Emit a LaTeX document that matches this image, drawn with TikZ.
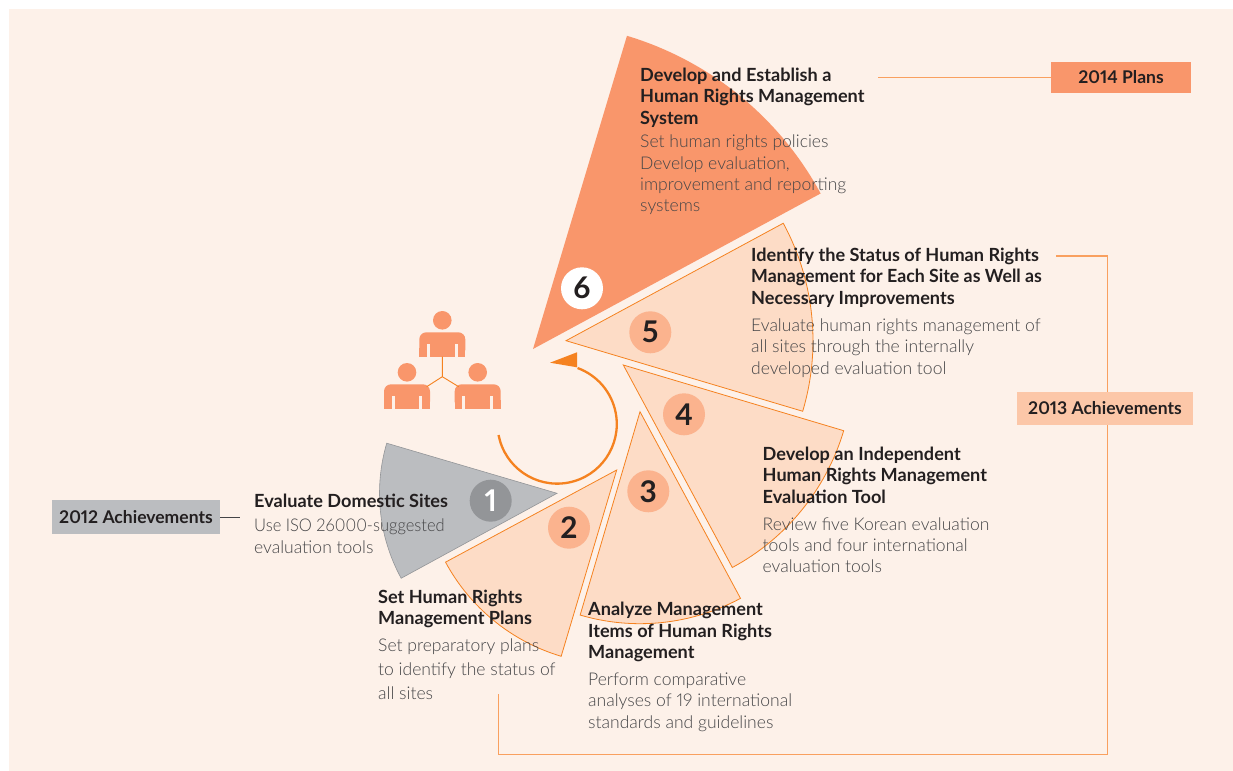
\documentclass[tikz,border=0pt]{standalone}
\usepackage{fontspec}
\usepackage{graphicx}
\setmainfont{Lato}[Numbers=Proportional]
\newfontfamily\lightface{Lato Light}[Numbers=Proportional]
\definecolor{pg}{HTML}{FDF1E9}
\definecolor{wedgeL}{HTML}{FDDCC6}
\definecolor{wedgeM}{HTML}{F9966B}
\definecolor{lineO}{HTML}{F58220}
\definecolor{leadO}{HTML}{F9A05F}
\definecolor{discL}{HTML}{FBB38E}
\definecolor{boxL}{HTML}{FCC7A8}
\definecolor{greyW}{HTML}{BBBDC0}
\definecolor{greyD}{HTML}{939598}
\definecolor{inkT}{HTML}{231F20}
\definecolor{inkL}{HTML}{454547}
\newcommand{\wedgeshape}[6]{% style, apex x, apex y, a1, a2, r
  \path[#1] (#2,#3) -- ++(#4:#6) arc[start angle=#4,end angle=#5,radius=#6] -- cycle;}
\newcommand{\personicon}[2]{% x, y of head
  \fill[wedgeM] (#1,#2) circle[radius=9.3];
  \fill[wedgeM,rounded corners=7bp] (#1-23,#2+36.4) -- (#1-23,#2+12) -- (#1+23,#2+12) -- (#1+23,#2+36.4) -- cycle;
  \fill[wedgeM] (#1-23,#2+28) rectangle (#1+23,#2+36.4);
  \fill[pg] (#1-15.3,#2+24) rectangle (#1-12.4,#2+36.6);
  \fill[pg] (#1+12.4,#2+24) rectangle (#1+15.3,#2+36.6);}
\tikzset{
  softwedge/.style={fill=wedgeL,draw=lineO,line width=.8bp,line join=miter},
  strongwedge/.style={fill=wedgeM},
  greywedge/.style={fill=greyW,draw=greyD,line width=.6bp},
  numdisc/.style={circle,minimum size=42bp,inner sep=0,text=inkT,font=\fontsize{30}{30}\selectfont\bfseries},
  headtext/.style={anchor=base west,inner sep=0,align=left,text=inkT,font=\fontsize{18.2}{21.4}\selectfont\bfseries},
  bodytext/.style={anchor=base west,inner sep=0,align=left,text=inkL,font=\fontsize{17.6}{21.4}\selectfont\lightface},
  tagbox/.style={inner sep=0,text=inkT,font=\fontsize{17.6}{21}\selectfont\bfseries},
  leader/.style={draw=leadO,line width=1.1bp},
}
\begin{document}
\begin{tikzpicture}[x=1bp,y=-1bp]
\useasboundingbox (0,0) rectangle (1233,771);
\fill[pg] (9,9) rectangle (1233,771);
% wedges
\wedgeshape{strongwedge}{533}{349}{-73.3}{-28.4}{327}
\wedgeshape{softwedge}{566}{340.7}{-28.4}{16.6}{247}
\wedgeshape{softwedge}{623.3}{365}{16.6}{61.7}{230}
\wedgeshape{softwedge}{640}{411.7}{61.7}{106.4}{212}
\wedgeshape{softwedge}{616.7}{470}{106.6}{151.7}{194.4}
\wedgeshape{greywedge}{557}{493.3}{151.4}{196.4}{177.5}
% discs
\node[numdisc,fill=greyD,text=white] (n1) at (490.7,500.7) {1};
\node[numdisc,fill=discL] (n2) at (569,527.7) {2};
\node[numdisc,fill=discL] (n3) at (648.3,491.3) {3};
\node[numdisc,fill=discL] (n4) at (684,414.3) {4};
\node[numdisc,fill=discL] (n5) at (650.3,332.3) {5};
\node[numdisc,fill=white] (n6) at (582,288.3) {6};
% people
\personicon{442.3}{320.3}
\personicon{407}{372.3}
\personicon{477.7}{372.3}
\coordinate (hub) at (442.3,376.7);
\coordinate (pa) at (442.3,356.7);
\coordinate (pb) at (426.7,386.7);
\coordinate (pc) at (458.7,386.7);
\draw[lineO,line width=.9bp] (pa) -- (hub) (pb) -- (hub) -- (pc);
% cycle arrow
\draw[lineO,line width=2.3bp] (498.6,435) arc[start angle=169.4,end angle=-70,radius=59.6];
\fill[lineO] (550,362.7) -- (577,352.3) -- (577,367.3) -- cycle;
% leaders
\coordinate (l14) at (878,77.5);
\coordinate (l13a) at (1056,256);
\coordinate (l13b) at (498.7,694);
\coordinate (l12) at (239.5,517.5);
\node[tagbox,fill=wedgeM,minimum width=140bp,minimum height=31bp] (t14) at (1121,77.5) {\raisebox{-1bp}{2014 Plans}};
\draw[leader] (l14) -- (t14.west);
\draw[leader] (l13a) -- (1107.3,256) -- (1107.3,754.3) -- (498.7,754.3) -- (l13b);
\node[tagbox,fill=boxL,minimum width=176bp,minimum height=33bp] (t13) at (1105,408.5) {\raisebox{-1.5bp}{2013 Achievements}};
\node[tagbox,fill=greyW,minimum width=168bp,minimum height=34bp] (t12) at (136,517) {\raisebox{-1.5bp}{2012 Achievements}};
\draw[draw=inkL,line width=.8bp] (t12.east) ++(0,.5) -- (l12);
% texts
\node[headtext] (h6) at (640,124.3) {Develop and Establish a\\Human Rights Management\\System};
\node[bodytext] (b6) at (640,211.7) {Set human rights policies\\Develop evaluation,\\improvement and reporting\\systems};
\node[headtext] (h5) at (751,304) {Identify the Status of Human Rights\\\scalebox{.98}[1]{Management for Each Site as Well as}\\Necessary Improvements};
\node[bodytext] (b5) at (751,374) {Evaluate human rights management of\\all sites through the internally\\developed evaluation tool};
\node[headtext] (h4) at (762.5,503) {Develop an Independent\\Human Rights Management\\Evaluation Tool};
\node[bodytext] (b4) at (762.5,572.7) {Review five Korean evaluation\\tools and four international\\evaluation tools};
\node[headtext] (h3) at (588,658.5) {Analyze Management\\Items of Human Rights\\Management};
\node[bodytext] (b3) at (588,728) {Perform comparative\\analyses of 19 international\\standards and guidelines};
\node[headtext] (h2) at (378,624.7) {Set Human Rights\\Management Plans};
\node[bodytext,font=\fontsize{17.6}{24}\selectfont\lightface] (b2) at (378,699) {Set preparatory plans\\to identify the status of\\all sites};
\node[headtext] (h1) at (254,507) {Evaluate Domestic Sites};
\node[bodytext] (b1) at (254,553) {\scalebox{.94}[1]{Use ISO 26000-suggested}\\evaluation tools};
\end{tikzpicture}
\end{document}
